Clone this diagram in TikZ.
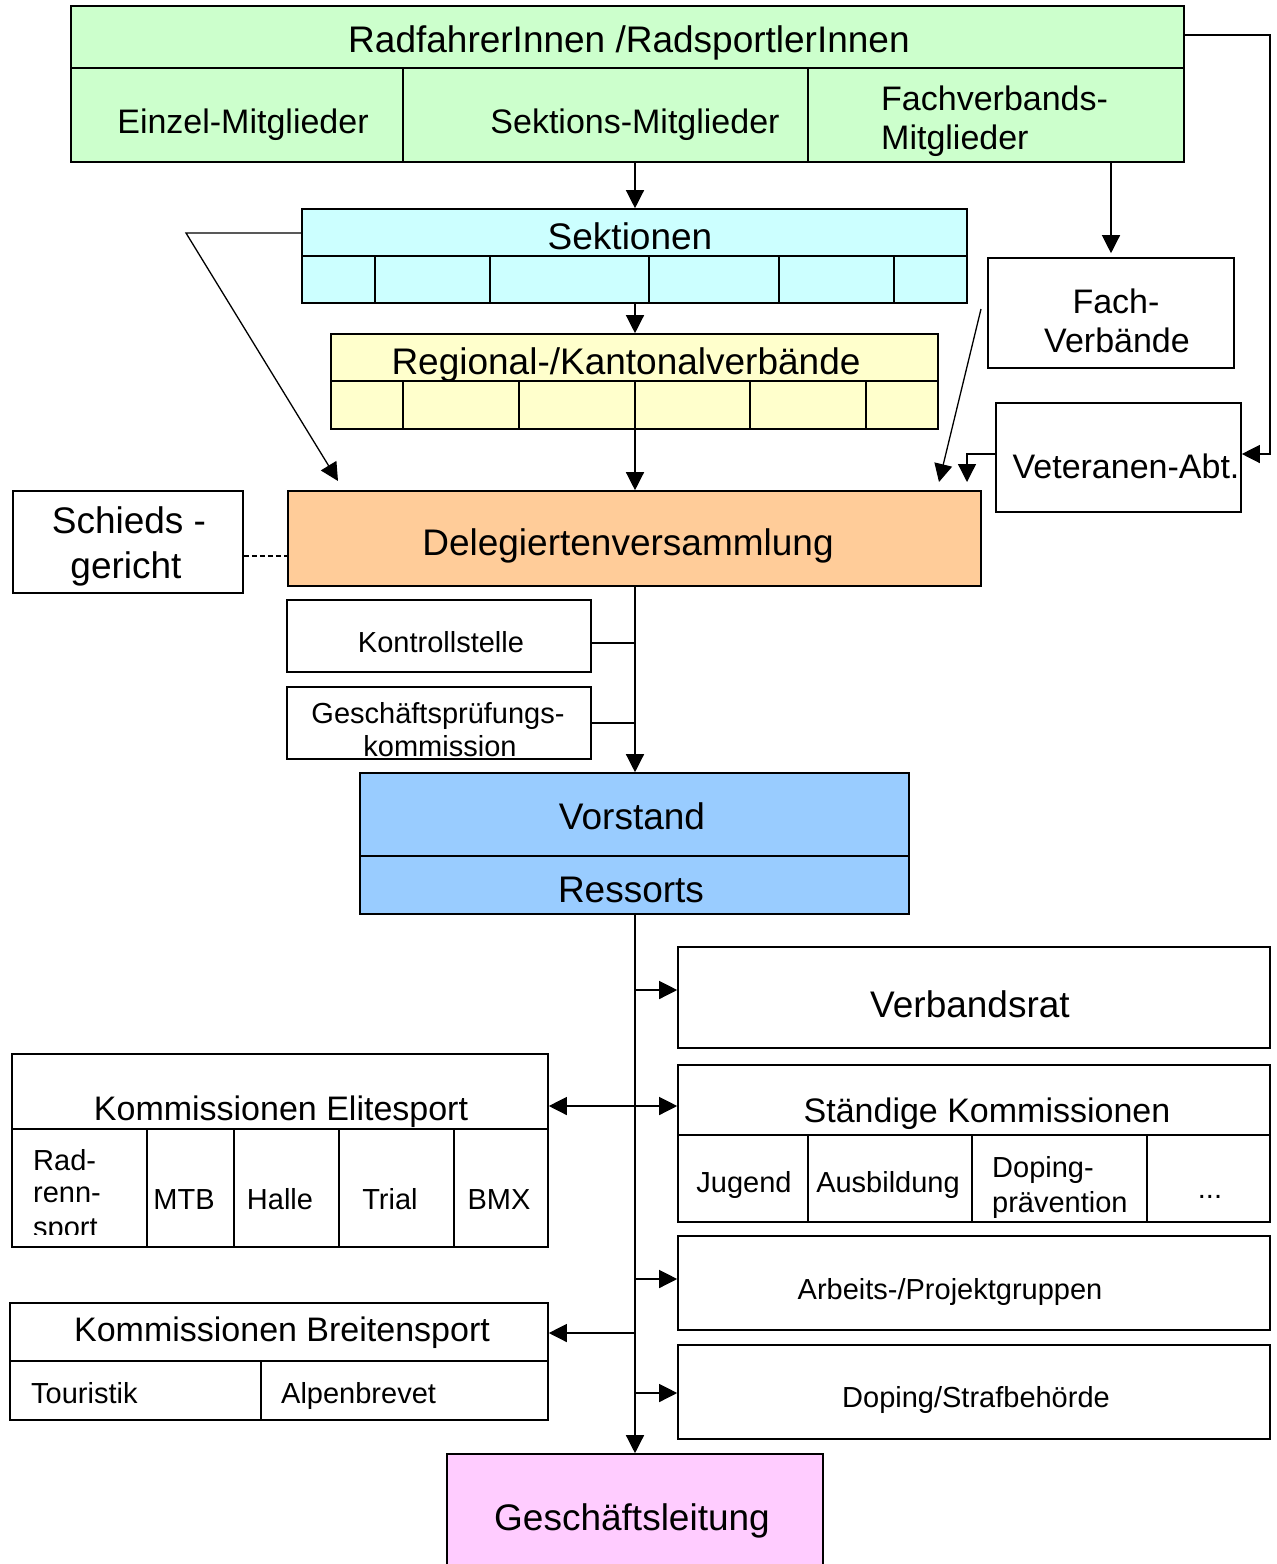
\documentclass[tikz,border=0pt]{standalone}
\usepackage{fontspec}
\setmainfont{Liberation Sans}
\usetikzlibrary{arrows.meta,fit}
\definecolor{cgrn}{HTML}{CCFFCC}
\definecolor{ccya}{HTML}{CCFFFF}
\definecolor{cyel}{HTML}{FFFFCC}
\definecolor{cora}{HTML}{FFCC99}
\definecolor{cblu}{HTML}{99CCFF}
\definecolor{cpnk}{HTML}{FFCCFF}
\tikzset{
  box/.style={draw, line width=1.6pt, inner sep=0pt, rectangle},
  cell/.style={line width=1.4pt},
  conn/.style={line width=1.3pt},
  arr/.style={line width=1.3pt, -{Triangle[length=18pt,width=18pt]}},
  arrtwo/.style={line width=1.3pt, {Triangle[length=18pt,width=18pt]}-{Triangle[length=18pt,width=18pt]}},
  tA/.style={font=\fontsize{37}{44}\selectfont, inner sep=0pt, anchor=base},
  tB/.style={font=\fontsize{34}{40}\selectfont, inner sep=0pt, anchor=base},
  tC/.style={font=\fontsize{29}{34}\selectfont, inner sep=0pt, anchor=base},
}
\begin{document}
\begin{tikzpicture}[x=1pt,y=-1pt]
\useasboundingbox (0,0) rectangle (1277,1564);

% ---------- boxes ----------
\node[box, fill=cgrn, fit={(71,6) (1184,162)}] (green) {};
\node[box, fill=ccya, fit={(302,209) (967,303)}] (sekt) {};
\node[box, fill=cyel, fit={(331,334) (938,429)}] (reg) {};
\node[box, fit={(988,258) (1234,368)}] (fach) {};
\node[box, fit={(996,403) (1241,512)}] (vet) {};
\node[box, fill=cora, fit={(288,491) (981,586)}] (del) {};
\node[box, fit={(13,491) (243,593)}] (schied) {};
\node[box, fit={(287,600) (591,672)}] (kon) {};
\node[box, fit={(287,687) (591,759)}] (gpk) {};
\node[box, fill=cblu, fit={(360,773) (909,914)}] (vor) {};
\node[box, fit={(678,947) (1270,1048)}] (vr) {};
\node[box, fit={(12,1054) (548,1247)}] (ke) {};
\node[box, fit={(678,1065) (1270,1222)}] (sk) {};
\node[box, fit={(678,1236) (1270,1330)}] (ap) {};
\node[box, fit={(10,1303) (548,1420)}] (kb) {};
\node[box, fit={(678,1345) (1270,1439)}] (dop) {};
\node[box, fill=cpnk, fit={(447,1454) (823,1580)}] (gl) {};

% ---------- inner divisions ----------
\draw[cell] (71,68) -- (1184,68) (403,68) -- (403,162) (808,68) -- (808,162);
\draw[cell] (302,256) -- (967,256);
\foreach \x in {375,490,649,779,894} \draw[cell] (\x,256) -- (\x,303);
\draw[cell] (331,381) -- (938,381);
\foreach \x in {403,519,750,866} \draw[cell] (\x,381) -- (\x,429);
\draw[cell] (360,856) -- (909,856);
\draw[cell] (12,1129) -- (548,1129);
\foreach \x in {147,234,339,454} \draw[cell] (\x,1129) -- (\x,1247);
\draw[cell] (678,1135) -- (1270,1135);
\foreach \x in {808,972,1147} \draw[cell] (\x,1135) -- (\x,1222);
\draw[cell] (10,1361) -- (548,1361);
\draw[cell] (261,1361) -- (261,1420);

% ---------- helper coordinates ----------
\coordinate (sp) at (635,0);
\coordinate (fx) at (1111,0);
\coordinate (c1) at (186,233);
\coordinate (d1) at (338,481);
\coordinate (c2) at (981,309);
\coordinate (d2) at (939,482);
\coordinate (c3) at (967,454);
\coordinate (d3) at (967,482);
\coordinate (c4) at (1270,35);
\coordinate (c5) at (1270,454);
\coordinate (c6) at (265,556);
\coordinate (k1) at (0,643);
\coordinate (k2) at (0,723);
\coordinate (b1) at (635,990);
\coordinate (b2) at (635,1106);
\coordinate (b3) at (635,1279);
\coordinate (b4) at (635,1333);
\coordinate (b5) at (635,1393);

% ---------- connectors ----------
\draw[arr] (green.south -| sp) -- (sekt.north -| sp);
\draw[arr] (sekt.south -| sp) -- (reg.north -| sp);
\draw[arr] (reg.north -| sp) ++(0,47) -- (del.north -| sp);
\draw[cell] (reg.south -| sp) ++(0,-48) -- (reg.south -| sp);
\draw[arr] (sekt.west |- c1) -- (c1) -- (d1);
\draw[arr, shorten >=4pt] (green.south -| fx) -- (fach.north -| fx);
\draw[arr] (c2) -- (d2);
\draw[arr] (vet.west |- c3) -- (c3) -- (d3);
\draw[arr] (green.east |- c4) -- (c4) -- (c5) -- (vet.east |- c5);
\draw[conn, dash pattern=on 5pt off 3pt] (schied.east |- c6) -- (del.west |- c6);
\draw[conn] (kon.east |- k1) -- (sp |- k1);
\draw[conn] (gpk.east |- k2) -- (sp |- k2);
\draw[arr] (del.south -| sp) -- (vor.north -| sp);
\draw[arr] (vor.south -| sp) -- (gl.north -| sp);
\draw[arr] (b1) -- (vr.west |- b1);
\draw[arrtwo] (ke.east |- b2) -- (sk.west |- b2);
\draw[arr] (b3) -- (ap.west |- b3);
\draw[arr] (b4) -- (kb.east |- b4);
\draw[arr] (b5) -- (dop.west |- b5);

% ---------- texts ----------
\node[tA] (t1) at (629,52) {RadfahrerInnen /RadsportlerInnen};
\node[tB] (t2) at (243,133) {Einzel-Mitglieder};
\node[tB] (t3) at (635,133) {Sektions-Mitglieder};
\node[tB, anchor=base west] (t4) at (881,110) {Fachverbands-};
\node[tB, anchor=base west] (t5) at (881,149) {Mitglieder};
\node[tA] (t6) at (630,249) {Sektionen};
\node[tA] (t7) at (626,374) {Regional-/Kantonalverbände};
\node[tB] (t8) at (1116,313) {Fach-};
\node[tB] (t9) at (1117,352) {Verbände};
\node[tB] (t10) at (1126,478) {Veteranen-Abt.};
\node[tA] (t11) at (628,555) {Delegiertenversammlung};
\node[tA] (t12) at (129,533) {Schieds -};
\node[tA] (t13) at (126,578) {gericht};
\node[tC] (t14) at (441,652) {Kontrollstelle};
\node[tC] (t15) at (438,723) {Geschäftsprüfungs-};
\node[tC] (t16) at (440,756) {kommission};
\node[tA] (t17) at (632,829) {Vorstand};
\node[tA] (t18) at (631,902) {Ressorts};
\node[tA] (t19) at (970,1017) {Verbandsrat};
\node[tB] (t20) at (281,1120) {Kommissionen Elitesport};
\begin{scope}
\clip (14,1131) rectangle (146,1234);
\node[tC, anchor=base west] (t21) at (33,1170) {Rad-};
\node[tC, anchor=base west] (t22) at (33,1202) {renn-};
\node[tC, anchor=base west] (t23) at (33,1237) {sport};
\end{scope}
\node[tC] (t24) at (184,1209) {MTB};
\node[tC] (t25) at (280,1209) {Halle};
\node[tC] (t26) at (390,1209) {Trial};
\node[tC] (t27) at (499,1209) {BMX};
\node[tB] (t28) at (987,1122) {Ständige Kommissionen};
\node[tC] (t29) at (744,1192) {Jugend};
\node[tC] (t30) at (888,1192) {Ausbildung};
\node[tC, anchor=base west] (t31) at (992,1177) {Doping-};
\node[tC, anchor=base west] (t32) at (992,1212) {prävention};
\node[tC] (t33) at (1210,1198) {...};
\node[tC] (t34) at (950,1299) {Arbeits-/Projektgruppen};
\node[tB] (t35) at (282,1341) {Kommissionen Breitensport};
\node[tC, anchor=base west] (t36) at (31,1403) {Touristik};
\node[tC, anchor=base west] (t37) at (281,1403) {Alpenbrevet};
\node[tC] (t38) at (976,1407) {Doping/Strafbehörde};
\node[tA] (t39) at (632,1530) {Geschäftsleitung};
\end{tikzpicture}
\end{document}
